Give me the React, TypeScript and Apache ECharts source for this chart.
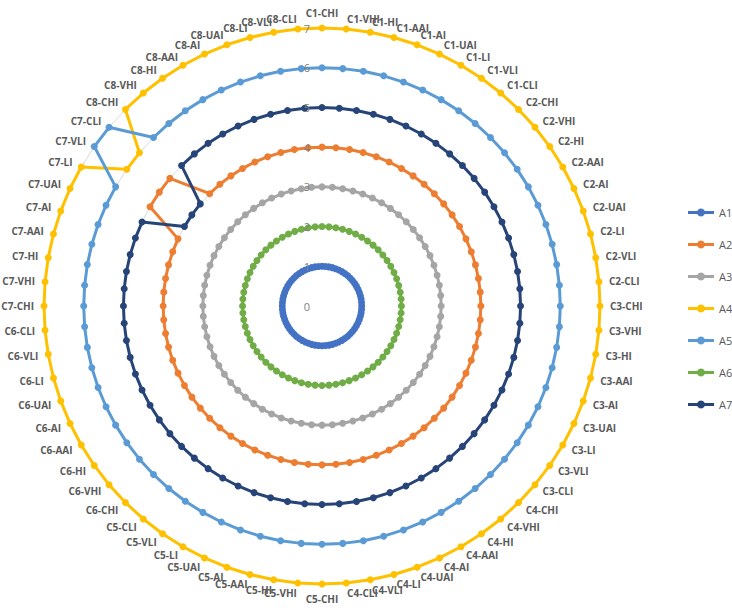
import React, { useEffect, useRef } from 'react';
import * as echarts from 'echarts';

const groups = ['C1', 'C2', 'C3', 'C4', 'C5', 'C6', 'C7', 'C8'];
const levels = ['CHI', 'VHI', 'HI', 'AAI', 'AI', 'UAI', 'LI', 'VLI', 'CLI'];
const categories = groups.flatMap((g) => levels.map((l) => `${g}-${l}`));

const axisMin = 0;
const axisMax = 7;
const axisSplits = 7;

const seriesNames = ['A1', 'A2', 'A3', 'A4', 'A5', 'A6', 'A7'];
const seriesColors = ['#4472C4', '#ED7D31', '#A5A5A5', '#FFC000', '#5B9BD5', '#70AD47', '#264478'];

// rows: C1 .. C8, columns: CHI, VHI, HI, AAI, AI, UAI, LI, VLI, CLI
const A1 = [
  1, 1, 1, 1, 1, 1, 1, 1, 1,
  1, 1, 1, 1, 1, 1, 1, 1, 1,
  1, 1, 1, 1, 1, 1, 1, 1, 1,
  1, 1, 1, 1, 1, 1, 1, 1, 1,
  1, 1, 1, 1, 1, 1, 1, 1, 1,
  1, 1, 1, 1, 1, 1, 1, 1, 1,
  1, 1, 1, 1, 1, 1, 1, 1, 1,
  1, 1, 1, 1, 1, 1, 1, 1, 1,
];
const A2 = [
  4, 4, 4, 4, 4, 4, 4, 4, 4,
  4, 4, 4, 4, 4, 4, 4, 4, 4,
  4, 4, 4, 4, 4, 4, 4, 4, 4,
  4, 4, 4, 4, 4, 4, 4, 4, 4,
  4, 4, 4, 4, 4, 4, 4, 4, 4,
  4, 4, 4, 4, 4, 4, 4, 4, 4,
  4, 4, 4, 4, 4, 4, 5, 5, 5,
  4, 4, 4, 4, 4, 4, 4, 4, 4,
];
const A3 = [
  3, 3, 3, 3, 3, 3, 3, 3, 3,
  3, 3, 3, 3, 3, 3, 3, 3, 3,
  3, 3, 3, 3, 3, 3, 3, 3, 3,
  3, 3, 3, 3, 3, 3, 3, 3, 3,
  3, 3, 3, 3, 3, 3, 3, 3, 3,
  3, 3, 3, 3, 3, 3, 3, 3, 3,
  3, 3, 3, 3, 3, 3, 3, 3, 3,
  3, 3, 3, 3, 3, 3, 3, 3, 3,
];
const A4 = [
  7, 7, 7, 7, 7, 7, 7, 7, 7,
  7, 7, 7, 7, 7, 7, 7, 7, 7,
  7, 7, 7, 7, 7, 7, 7, 7, 7,
  7, 7, 7, 7, 7, 7, 7, 7, 7,
  7, 7, 7, 7, 7, 7, 7, 7, 7,
  7, 7, 7, 7, 7, 7, 7, 7, 7,
  7, 7, 7, 7, 7, 7, 7, 6, 6,
  7, 7, 7, 7, 7, 7, 7, 7, 7,
];
const A5 = [
  6, 6, 6, 6, 6, 6, 6, 6, 6,
  6, 6, 6, 6, 6, 6, 6, 6, 6,
  6, 6, 6, 6, 6, 6, 6, 6, 6,
  6, 6, 6, 6, 6, 6, 6, 6, 6,
  6, 6, 6, 6, 6, 6, 6, 6, 6,
  6, 6, 6, 6, 6, 6, 6, 6, 6,
  6, 6, 6, 6, 6, 6, 6, 7, 7,
  6, 6, 6, 6, 6, 6, 6, 6, 6,
];
const A6 = [
  2, 2, 2, 2, 2, 2, 2, 2, 2,
  2, 2, 2, 2, 2, 2, 2, 2, 2,
  2, 2, 2, 2, 2, 2, 2, 2, 2,
  2, 2, 2, 2, 2, 2, 2, 2, 2,
  2, 2, 2, 2, 2, 2, 2, 2, 2,
  2, 2, 2, 2, 2, 2, 2, 2, 2,
  2, 2, 2, 2, 2, 2, 2, 2, 2,
  2, 2, 2, 2, 2, 2, 2, 2, 2,
];
const A7 = [
  5, 5, 5, 5, 5, 5, 5, 5, 5,
  5, 5, 5, 5, 5, 5, 5, 5, 5,
  5, 5, 5, 5, 5, 5, 5, 5, 5,
  5, 5, 5, 5, 5, 5, 5, 5, 5,
  5, 5, 5, 5, 5, 5, 5, 5, 5,
  5, 5, 5, 5, 5, 5, 5, 5, 5,
  5, 5, 5, 5, 5, 5, 4, 4, 4,
  5, 5, 5, 5, 5, 5, 5, 5, 5,
];
const seriesValues = [A1, A2, A3, A4, A5, A6, A7];

// ECharts radar lays indicators out counter-clockwise; reorder so they run clockwise.
const order = categories.map((_, i) => (i === 0 ? 0 : categories.length - i));

const legendIcon = 'path://M0,2.5 H26 V5.5 H0 Z M13,0 A4,4 0 1,1 12.99,0 Z';
const FONT = "'Open Sans', 'Noto Sans', sans-serif";
const CENTER = [322, 306];
const RADIUS = 278;

export default function App() {
  const ref = useRef<HTMLDivElement>(null);
  useEffect(() => {
    if (!ref.current) return;
    const chart = echarts.init(ref.current, undefined, { renderer: 'svg' });
    chart.setOption({
      animation: false,
      backgroundColor: '#ffffff',
      legend: {
        orient: 'vertical',
        left: 683,
        top: 202,
        itemWidth: 26,
        itemHeight: 8,
        itemGap: 21,
        data: seriesNames.map((n) => ({ name: n, icon: legendIcon })),
        textStyle: { color: '#595959', fontSize: 11, fontFamily: FONT },
      },
      radar: [
        {
          center: CENTER,
          radius: RADIUS,
          startAngle: 90,
          splitNumber: axisSplits,
          shape: 'polygon',
          nameGap: 10,
          z: 0,
          indicator: order.map((idx) => ({ name: categories[idx], min: axisMin, max: axisMax })),
          axisName: { color: '#595959', fontSize: 10, fontWeight: 'bold', fontFamily: FONT },
          axisLine: { show: false },
          axisTick: { show: false },
          splitLine: { show: true, lineStyle: { color: '#D9D9D9', width: 1 } },
          splitArea: { show: false },
          axisLabel: { show: false },
        },
        {
          center: CENTER,
          radius: RADIUS,
          startAngle: 90,
          splitNumber: axisSplits,
          shape: 'polygon',
          z: 20,
          indicator: order.map((idx, i) => {
            const ind: any = { name: categories[idx], min: axisMin, max: axisMax };
            if (i === 0) ind.axisLabel = { show: true };
            return ind;
          }),
          axisName: { show: false },
          axisLine: { show: false },
          axisTick: { show: false },
          splitLine: { show: false },
          splitArea: { show: false },
          axisLabel: { show: false, color: '#808080', fontSize: 11, fontFamily: FONT, margin: 12 },
        },
      ],
      series: seriesNames.map((n, i) => ({
        type: 'radar',
        name: n,
        radarIndex: 0,
        z: 2 + i,
        symbol: 'circle',
        symbolSize: 7,
        lineStyle: { width: 3, color: seriesColors[i] },
        itemStyle: { color: seriesColors[i] },
        data: [{ name: n, value: order.map((idx) => seriesValues[i][idx]) }],
      })),
    });
    return () => chart.dispose();
  }, []);
  return <div ref={ref} style={{ position: 'absolute', left: 0, top: 0, width: 732, height: 611 }} />;
}
